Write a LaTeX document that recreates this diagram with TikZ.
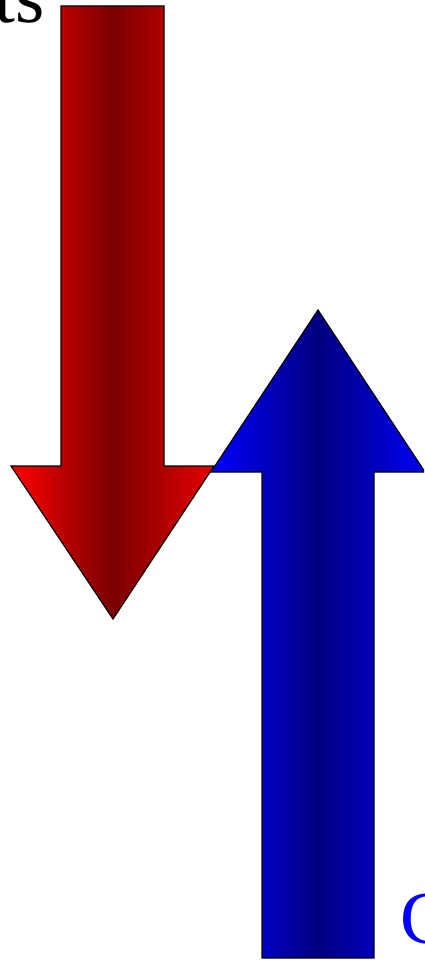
\documentclass[tikz,border=0pt]{standalone}
\usepackage{fontspec}
\setmainfont{Liberation Serif}
\usepackage{tikz}
\usetikzlibrary{positioning}
\definecolor{arrred}{RGB}{255,0,0}
\definecolor{arrdarkred}{RGB}{122,0,0}
\definecolor{arrblue}{RGB}{0,0,255}
\definecolor{arrnavy}{RGB}{0,0,128}
\tikzset{
  redshaft/.style={draw=black, line width=1.2pt, line join=miter,
    left color=arrred, right color=arrred!90!black, middle color=arrdarkred},
  blueshaft/.style={draw=black, line width=1.2pt, line join=miter,
    left color=arrblue, right color=arrblue!95!black, middle color=arrnavy},
  bigtext/.style={inner sep=0pt, font=\fontsize{75}{90}\selectfont}
}

\begin{document}
\begin{tikzpicture}[x=1pt, y=-1pt]
  \useasboundingbox (0,0) rectangle (424,960);
  \clip (0,0) rectangle (424,960);

  % Blue arrow (pointing up)
  \shade[blueshaft]
    (262,958) -- (262,472) -- (211,472) -- (318,310)
    -- (425,472) -- (374,472) -- (374,958) -- cycle;

  % Red arrow (pointing down), on top
  \shade[redshaft]
    (61,6) -- (164,6) -- (164,466) -- (214,466)
    -- (113,619) -- (11,466) -- (61,466) -- cycle;

  % Labels
  \node[bigtext, anchor=base east] (toplabel) at (45,23) {ts};
  \node[bigtext, anchor=base west, text=arrblue] (bottomlabel) at (400,943) {C};
\end{tikzpicture}
\end{document}
